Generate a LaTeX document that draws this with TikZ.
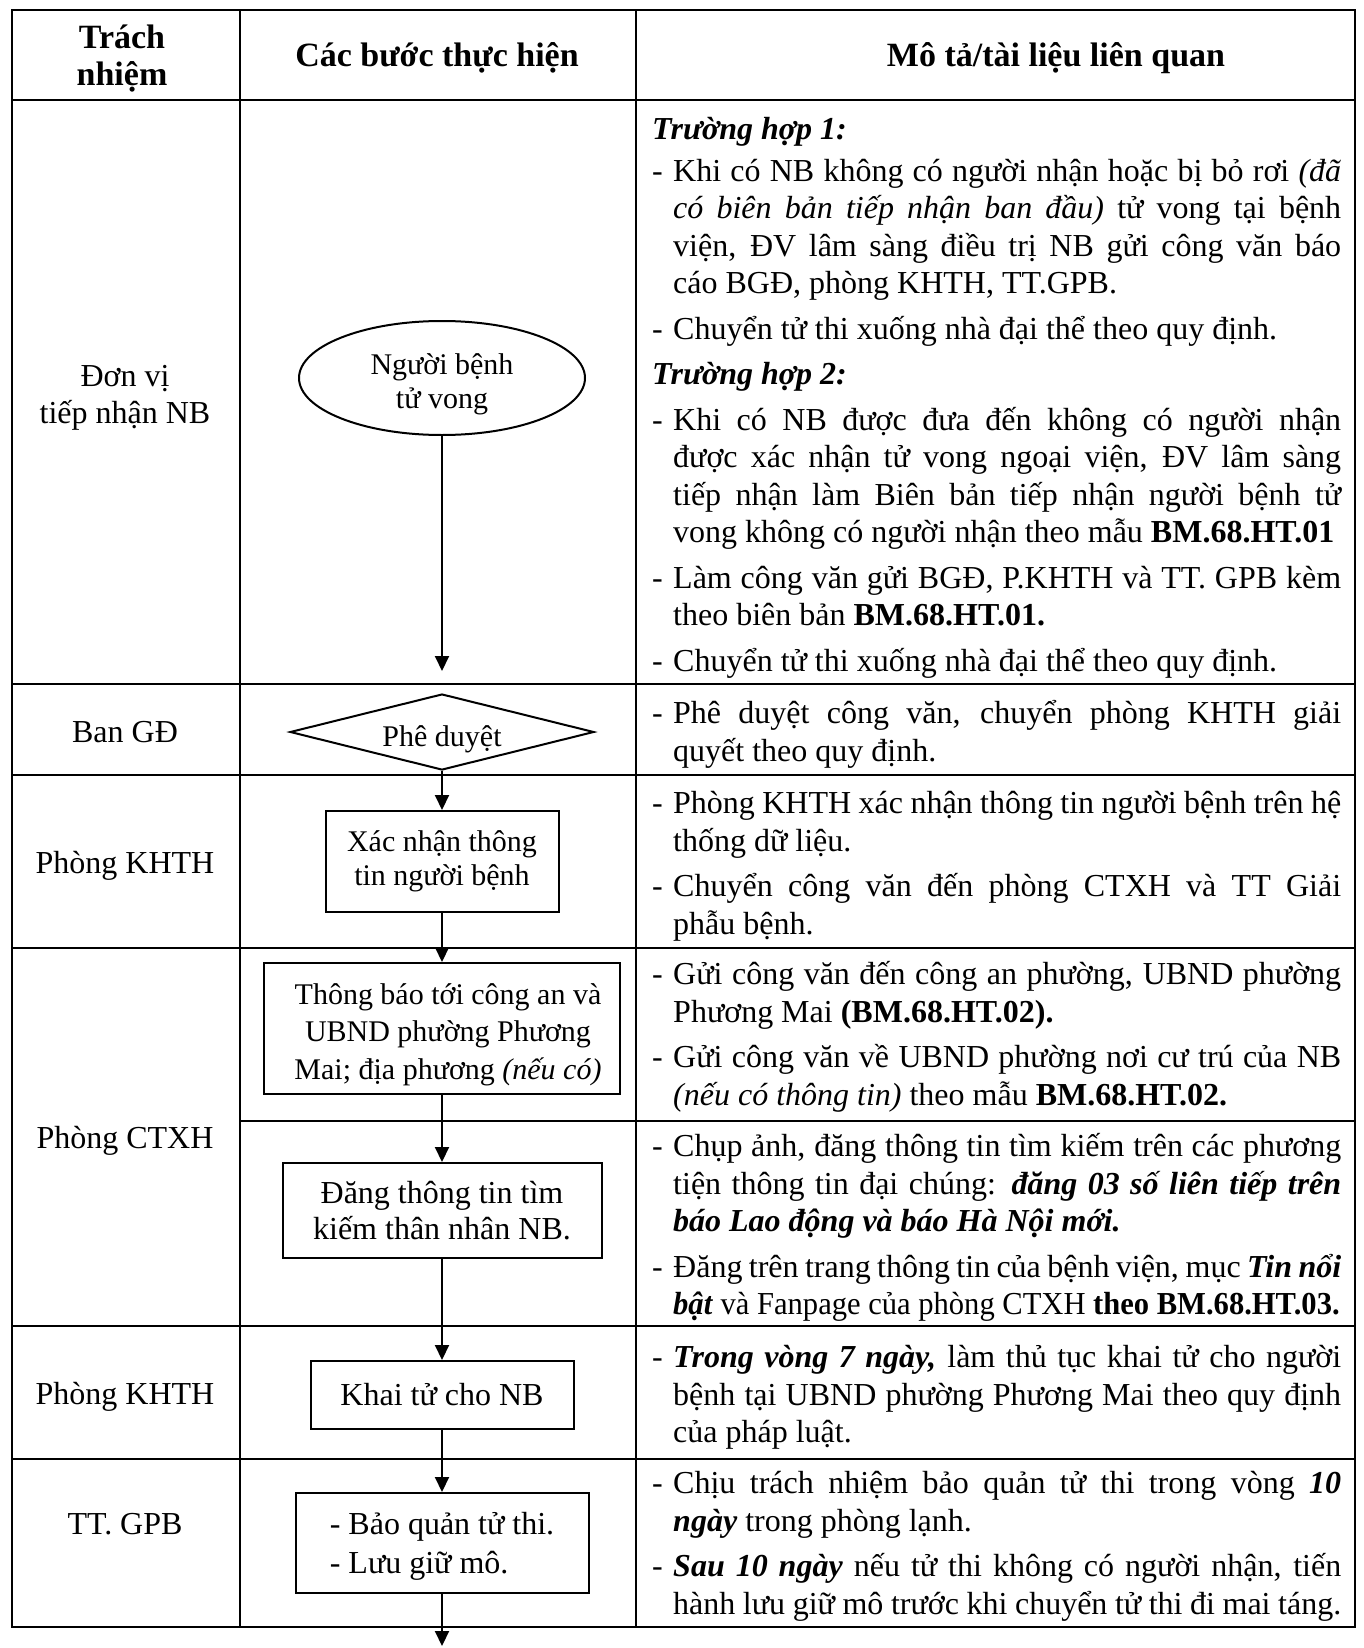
\documentclass[tikz,border=0pt]{standalone}
\usepackage{fontspec}
\setmainfont{Liberation Serif}
\usetikzlibrary{arrows.meta,shapes.geometric}
\hyphenpenalty=10000
\exhyphenpenalty=10000
\newcommand{\stepitem}{\par\noindent\hangindent=21pt\hangafter=1\strut\makebox[21pt][l]{-}}
\newcommand{\casehead}[1]{\par\noindent\strut\textbf{\textit{#1}}}
\tikzset{
	tableline/.style={line width=2.8pt, line cap=rect},
	head/.style={font=\fontsize{34}{37}\selectfont\bfseries, align=center},
	role/.style={font=\fontsize{32}{37}\selectfont, align=center},
	desc/.style={anchor=north west, inner sep=0pt, text width=689pt, align=justify,
		font=\fontsize{32}{37.5}\selectfont, execute at begin node={\setlength{\parskip}{8pt}}},
	stepbox/.style={draw, line width=2pt, inner sep=0pt, align=center,
		font=\fontsize{32}{36}\selectfont},
	small/.style={font=\fontsize{30}{34}\selectfont},
	flow/.style={line width=2pt, -{Triangle[length=15pt,width=14pt]}},
}
\begin{document}
\begin{tikzpicture}[x=1pt,y=-1pt]
	\useasboundingbox (0,0) rectangle (1363,1648);
	\draw[tableline] (12,10) rectangle (1355,1627);
	\draw[tableline] (240,10)--(240,1627);
	\draw[tableline] (636,10)--(636,1627);
	\foreach \y in {100,684,775,948,1326,1459}
		\draw[tableline] (12,\y)--(1355,\y);
	\draw[tableline] (240,1121)--(1355,1121);
	
	\node[head] (h1) at (122,59) {Trách\\nhiệm};
	\node[head] (h2) at (437,58) {Các bước thực hiện};
	\node[head] (h3) at (1056,58) {Mô tả/tài liệu liên quan};
	
	\node[role] (r1) at (125,398) {Đơn vị\\tiếp nhận NB};
	\node[role] (r2) at (125,732) {Ban GĐ};
	\node[role] (r3) at (125,866) {Phòng KHTH};
	\node[role] (r4) at (125,1141) {Phòng CTXH};
	\node[role] (r5) at (125,1397) {Phòng KHTH};
	\node[role] (r6) at (125,1524) {TT. GPB};
	
	\node[stepbox, small, ellipse, minimum width=286pt, minimum height=114pt] (death) at (442,378) {\rule{0pt}{33pt}Người bệnh\\tử vong};
	\node[stepbox, small, diamond, aspect=3.8, minimum width=304pt, minimum height=76pt] (approve) at (442,732) {\rule{0pt}{35pt}Phê duyệt};
	\node[stepbox, small, minimum width=233pt, minimum height=101pt] (confirm) at (442,861.5) {Xác nhận thông\\tin người bệnh};
	\node[stepbox, small, minimum width=356pt, minimum height=131pt, font=\fontsize{30}{37.5}\selectfont] (notify) at (442,1028.5) {\rule{0pt}{33pt}\hspace*{12pt}Thông báo tới công an và\\\hspace*{12pt}UBND phường Phương\\\hspace*{12pt}Mai; địa phương \textit{(nếu có)}};
	\node[stepbox, minimum width=319pt, minimum height=95pt] (search) at (442,1210.5) {Đăng thông tin tìm\\kiếm thân nhân NB.};
	\node[stepbox, minimum width=263pt, minimum height=68pt] (declare) at (442,1395) {Khai tử cho NB};
	\node[stepbox, minimum width=293pt, minimum height=100pt, align=left, font=\fontsize{32}{39}\selectfont] (keep) at (442,1543) {\rule{0pt}{28pt}- Bảo quản tử thi.\\- Lưu giữ mô.};
	
	\coordinate (d1) at (442,671);
	\coordinate (d7) at (442,1646);
	\draw[flow] (death.south)--(d1);
	\draw[flow] (approve.south)--(confirm.north);
	\draw[flow] (confirm.south)--(notify.north);
	\draw[flow] (notify.south)--(search.north);
	\draw[flow] (search.south)--(declare.north);
	\draw[flow] (declare.south)--(keep.north);
	\draw[flow] (keep.south)--(d7);
	
	\node[desc] (note1) at (652,94) {\casehead{Trường hợp 1:}\par\vspace{-4pt}
		\stepitem Khi có NB không có người nhận hoặc bị bỏ rơi \textit{(đã}\linebreak
		\textit{có biên bản tiếp nhận ban đầu)} tử vong tại bệnh\linebreak
		viện, ĐV lâm sàng điều trị NB gửi công văn báo\linebreak
		cáo BGĐ, phòng KHTH, TT.GPB.
		\stepitem Chuyển tử thi xuống nhà đại thể theo quy định.
		\casehead{Trường hợp 2:}
		\stepitem Khi có NB được đưa đến không có người nhận\linebreak
		được xác nhận tử vong ngoại viện, ĐV lâm sàng\linebreak
		tiếp nhận làm Biên bản tiếp nhận người bệnh tử\linebreak
		vong không có người nhận theo mẫu \textbf{BM.68.HT.01}
		\stepitem Làm công văn gửi BGĐ, P.KHTH và TT. GPB kèm\linebreak
		theo biên bản \textbf{BM.68.HT.01.}
		\stepitem Chuyển tử thi xuống nhà đại thể theo quy định.\par};
	\node[desc] (note2) at (652,678) {\stepitem Phê duyệt công văn, chuyển phòng KHTH giải\linebreak
		quyết theo quy định.\par};
	\node[desc] (note3) at (652,768) {\stepitem Phòng KHTH xác nhận thông tin người bệnh trên hệ\linebreak
		thống dữ liệu.
		\stepitem Chuyển công văn đến phòng CTXH và TT Giải\linebreak
		phẫu bệnh.\par};
	\node[desc] (note4) at (652,939) {\stepitem Gửi công văn đến công an phường, UBND phường\linebreak
		Phương Mai \textbf{(BM.68.HT.02).}
		\stepitem Gửi công văn về UBND phường nơi cư trú của NB\linebreak
		\textit{(nếu có thông tin)} theo mẫu \textbf{BM.68.HT.02.}\par};
	\node[desc] (note5) at (652,1111) {\stepitem Chụp ảnh, đăng thông tin tìm kiếm trên các phương\linebreak
		tiện thông tin đại chúng: \textbf{\textit{đăng 03 số liên tiếp trên}}\linebreak
		\textbf{\textit{báo Lao động và báo Hà Nội mới.}}
		\stepitem Đăng trên trang thông tin của bệnh viện, mục \textbf{\textit{Tin nổi}}\linebreak
		\scalebox{0.955}[1]{\textbf{\textit{bật}} và Fanpage của phòng CTXH \textbf{theo BM.68.HT.03.}}\par};
	\node[desc] (note6) at (652,1322) {\stepitem \textbf{\textit{Trong vòng 7 ngày,}} làm thủ tục khai tử cho người\linebreak
		bệnh tại UBND phường Phương Mai theo quy định\linebreak
		của pháp luật.\par};
	\node[desc] (note7) at (652,1448) {\stepitem Chịu trách nhiệm bảo quản tử thi trong vòng \textbf{\textit{10}}\linebreak
		\textbf{\textit{ngày}} trong phòng lạnh.
		\stepitem \textbf{\textit{Sau 10 ngày}} nếu tử thi không có người nhận, tiến\linebreak
		hành lưu giữ mô trước khi chuyển tử thi đi mai táng.\par};
\end{tikzpicture}
\end{document}
